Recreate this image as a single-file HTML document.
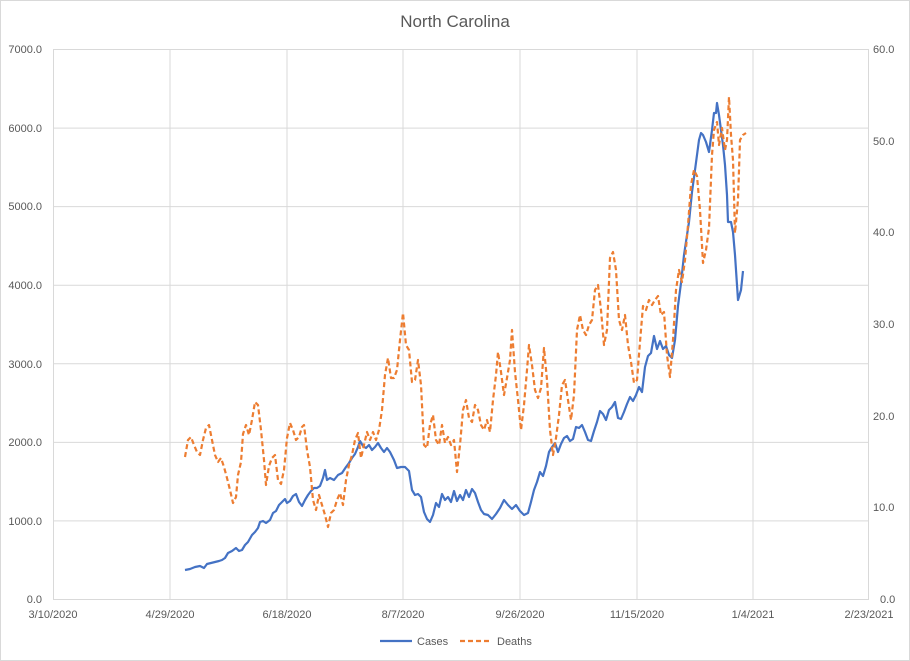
<!DOCTYPE html>
<html><head><meta charset="utf-8"><style>
body{margin:0;background:#fff}
svg{display:block;font-family:"Liberation Sans",sans-serif}
</style></head><body>
<svg width="910" height="661" viewBox="0 0 910 661">
<rect x="0.5" y="0.5" width="909" height="660" fill="#fff" stroke="#d9d9d9"/>
<text x="455" y="27" text-anchor="middle" font-size="17" fill="#595959">North Carolina</text>
<g stroke="#d9d9d9" stroke-width="1">
<line x1="53" y1="49.5" x2="869" y2="49.5"/><line x1="53" y1="128.1" x2="869" y2="128.1"/>
<line x1="53" y1="206.6" x2="869" y2="206.6"/><line x1="53" y1="285.2" x2="869" y2="285.2"/>
<line x1="53" y1="363.8" x2="869" y2="363.8"/><line x1="53" y1="442.4" x2="869" y2="442.4"/>
<line x1="53" y1="520.9" x2="869" y2="520.9"/>
<line x1="53.5" y1="49" x2="53.5" y2="599"/><line x1="170" y1="49" x2="170" y2="599"/>
<line x1="287" y1="49" x2="287" y2="599"/><line x1="403" y1="49" x2="403" y2="599"/>
<line x1="520" y1="49" x2="520" y2="599"/><line x1="637" y1="49" x2="637" y2="599"/>
<line x1="753" y1="49" x2="753" y2="599"/><line x1="868.5" y1="49" x2="868.5" y2="599"/>
<line x1="53" y1="599.5" x2="869" y2="599.5"/>
</g>
<g font-size="11" fill="#595959" text-anchor="end">
<text x="42" y="53">7000.0</text><text x="42" y="132">6000.0</text><text x="42" y="210">5000.0</text>
<text x="42" y="289">4000.0</text><text x="42" y="368">3000.0</text><text x="42" y="446">2000.0</text>
<text x="42" y="525">1000.0</text><text x="42" y="603">0.0</text>
</g>
<g font-size="11" fill="#595959" text-anchor="start">
<text x="873" y="53">60.0</text><text x="873" y="145">50.0</text><text x="873" y="236">40.0</text>
<text x="873" y="328">30.0</text><text x="873" y="420">20.0</text><text x="873" y="511">10.0</text>
<text x="880" y="603">0.0</text>
</g>
<g font-size="11" fill="#595959" text-anchor="middle">
<text x="53" y="618">3/10/2020</text><text x="170" y="618">4/29/2020</text><text x="287" y="618">6/18/2020</text>
<text x="403" y="618">8/7/2020</text><text x="520" y="618">9/26/2020</text><text x="637" y="618">11/15/2020</text>
<text x="753" y="618">1/4/2021</text><text x="869" y="618">2/23/2021</text>
</g>
<polyline fill="none" stroke="#4472c4" stroke-width="2.2" stroke-linejoin="round" points="185,570 190,569 195,567 200,566 204,568 207,564 211,563 215,562 219,561 222,560 225,558 228,553 232,551 236,548 239,551 242,550 245,545 248,542 252,535 255,532 258,528 260,522 263,521 266,523 270,520 273,513 276,511 279,505 282,502 285,499 287,503 290,501 293,496 296,494 299,502 302,506 305,500 308,495 311,491 314,488 317,488 320,486 323,478 325,470 327,480 330,478 334,480 338,475 342,473 346,467 349,463 352,458 355,454 358,447 360,441 363,446 366,448 369,445 372,450 375,447 378,443 381,448 384,452 387,448 390,452 394,460 397,468 401,467 405,467 409,471 412,490 415,495 418,494 421,497 424,512 427,519 430,522 433,515 436,503 439,507 442,494 445,500 448,497 451,502 454,491 457,501 460,495 463,500 466,490 469,497 472,489 475,493 478,502 481,510 484,514 488,515 492,519 496,514 500,508 504,500 508,505 512,509 516,505 520,511 524,515 528,513 531,502 534,490 537,482 540,472 543,476 546,466 549,452 552,447 555,443 558,452 561,444 564,438 567,436 570,441 573,439 576,427 579,428 582,425 585,432 588,440 591,441 594,431 597,422 600,411 603,414 606,420 609,410 612,407 615,402 618,418 621,419 624,412 627,404 630,397 633,401 636,395 639,387 642,392 645,367 648,356 651,353 654,336 657,349 660,341 663,349 666,346 669,355 672,358 675,340 678,306 681,283 684,255 687,235 689,222 692,192 695,170 697,155 699,140 701,133 703,135 706,142 709,152 712,130 714,113 716,113 717,103 719,115 721,130 723,145 725,165 727,195 728,222 731,222 733,232 735,255 737,285 738,300 741,290 743,271"/>
<polyline fill="none" stroke="#ed7d31" stroke-width="2.2" stroke-dasharray="5,3" stroke-linejoin="round" points="185,457 188,440 191,437 194,445 197,452 200,455 203,440 206,428 209,425 212,440 215,455 218,462 221,458 224,467 227,478 230,490 233,503 236,497 238,475 241,462 243,434 246,425 249,435 252,420 255,402 258,405 261,430 264,460 266,485 269,466 272,458 275,455 278,480 281,484 284,470 287,438 290,423 293,430 296,440 299,437 302,427 304,425 307,450 310,467 313,500 316,510 319,495 322,505 325,515 328,527 331,513 334,510 337,500 340,493 343,505 346,480 349,465 352,455 355,440 358,433 361,458 364,445 367,432 370,440 373,432 376,440 379,430 382,410 385,375 388,358 391,378 394,378 397,370 400,340 403,313 406,345 409,350 412,382 415,380 418,360 421,385 424,445 427,448 430,425 433,415 436,440 439,445 442,425 445,443 448,437 451,445 454,440 457,472 460,445 463,410 466,400 469,418 472,422 475,405 478,410 481,425 484,430 487,420 490,432 493,400 496,375 498,352 501,372 504,395 507,378 510,360 512,330 515,372 518,400 521,430 524,405 527,370 529,345 532,365 535,390 538,398 541,388 544,348 547,380 550,430 553,455 556,438 559,415 562,385 565,380 568,400 571,420 574,395 577,330 580,315 583,330 586,335 589,325 592,320 595,290 598,285 601,310 604,345 607,330 610,258 613,252 616,270 619,320 622,330 625,315 628,345 631,362 634,383 637,380 640,342 643,306 646,310 649,300 652,305 655,300 658,296 661,315 664,312 667,355 670,377 673,340 676,290 679,270 682,282 685,260 688,225 691,185 694,170 697,176 700,210 703,263 706,250 709,228 712,155 714,130 717,122 719,145 722,128 725,150 727,140 729,97 731,135 733,160 735,233 738,200 740,140 743,135 746,133"/>
<line x1="380" y1="641" x2="412" y2="641" stroke="#4472c4" stroke-width="2.2"/>
<text x="417" y="645" font-size="11" fill="#595959">Cases</text>
<line x1="460" y1="641" x2="492" y2="641" stroke="#ed7d31" stroke-width="2.2" stroke-dasharray="5,3"/>
<text x="497" y="645" font-size="11" fill="#595959">Deaths</text>
</svg>
</body></html>
